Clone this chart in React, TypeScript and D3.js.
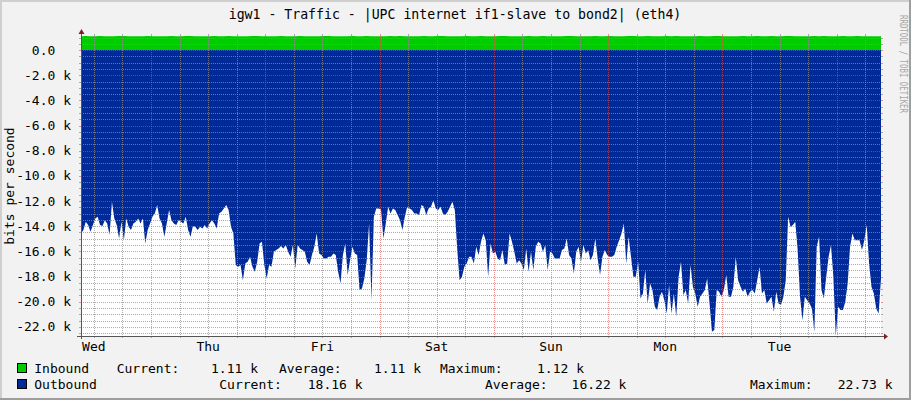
import React from 'react';
import * as d3 from 'd3';

// ---- Text ----
const TITLE = 'igw1 - Traffic - |UPC internet if1-slave to bond2| (eth4)';
const Y_LABEL = 'bits per second';
const WATERMARK = 'RRDTOOL / TOBI OETIKER';

// ---- Time axis: samples starting Wed 09:18 ----
const START = new Date(2024, 0, 3, 9, 18);
const OUT_STEP_MIN = 30;
const IN_STEP_MIN = 60;
const SPAN_HOURS = 168;

// Outbound traffic (k bits/s, plotted negative), one value per 30 minutes
const outbound = [
  14.58, 14.31, 13.65, 13.91, 14.44, 13.91, 13.38, 13.25, 13.91, 13.99, 13.52, 13.78,
  14.71, 12.06, 13.38, 13.91, 14.97, 13.65, 15.11, 13.38, 14.05, 14.31, 13.78, 13.65,
  13.38, 13.78, 13.38, 15.37, 14.31, 13.78, 13.25, 12.99, 12.32, 13.38, 13.78, 14.84,
  13.78, 12.72, 13.52, 13.78, 13.91, 13.52, 13.65, 13.78, 13.25, 14.31, 14.84, 13.99,
  14.05, 14.31, 14.05, 14.18, 13.91, 14.18, 13.78, 13.52, 13.78, 14.18, 12.99, 12.85,
  12.59, 12.32, 12.72, 14.05, 14.58, 17.09, 17.23, 17.09, 18.29, 16.96, 16.83, 16.43,
  17.23, 17.62, 16.83, 15.37, 15.24, 17.09, 18.15, 17.09, 17.23, 16.03, 15.9, 15.77,
  15.58, 15.77, 15.5, 16.03, 16.43, 15.5, 17.36, 15.5, 15.77, 15.9, 16.03, 16.83,
  17.09, 16.3, 15.64, 14.58, 16.17, 16.3, 16.56, 16.56, 16.43, 16.43, 16.17, 16.3,
  17.62, 18.55, 16.3, 15.37, 17.89, 16.7, 15.64, 16.17, 16.3, 19.08, 18.95, 18.15,
  16.7, 13.78, 19.88, 13.25, 12.59, 12.59, 12.67, 14.97, 13.78, 12.46, 12.99, 12.59,
  12.72, 13.12, 13.52, 14.31, 13.25, 12.46, 12.59, 12.72, 12.99, 12.99, 13.12, 12.32,
  12.46, 13.12, 12.59, 12.46, 11.93, 12.59, 12.72, 12.46, 12.99, 13.12, 12.85, 12.46,
  12.06, 12.72, 15.77, 18.29, 18.02, 17.23, 16.96, 16.43, 16.43, 16.96, 15.64, 16.3,
  15.24, 14.58, 15.11, 18.02, 15.37, 16.17, 16.03, 16.56, 16.7, 15.9, 17.09, 16.96,
  14.58, 15.24, 16.03, 16.96, 16.7, 16.96, 17.49, 15.77, 17.62, 16.03, 17.49, 15.64,
  15.24, 15.37, 16.03, 15.5, 17.49, 16.03, 16.17, 16.56, 16.56, 16.56, 15.9, 15.77,
  14.97, 16.3, 16.56, 17.76, 16.03, 15.64, 16.83, 15.5, 16.17, 15.9, 16.7, 16.3,
  14.97, 16.56, 17.89, 16.43, 15.9, 16.3, 16.43, 16.43, 16.3, 15.64, 15.11, 14.58,
  13.78, 16.96, 14.84, 16.43, 18.02, 18.02, 16.83, 19.74, 19.35, 17.49, 20.14, 18.55,
  19.08, 20.41, 20.67, 19.61, 19.21, 19.88, 20.94, 18.68, 20.94, 19.35, 21.2, 18.02,
  16.83, 19.48, 19.08, 20.14, 17.09, 18.82, 19.35, 20.41, 19.61, 19.35, 19.08, 18.15,
  20.14, 22.39, 22.26, 19.08, 19.21, 19.61, 19.08, 17.89, 19.61, 19.61, 18.82, 16.43,
  18.29, 18.82, 19.21, 18.95, 19.61, 19.21, 19.08, 19.35, 18.29, 17.23, 19.35, 19.08,
  20.14, 19.88, 19.61, 20.8, 19.21, 20.14, 20.27, 19.61, 18.29, 13.25, 14.05, 13.91,
  13.65, 15.9, 19.61, 21.47, 19.61, 19.88, 20.14, 20.54, 22.39, 15.64, 14.84, 19.08,
  19.74, 18.02, 16.43, 15.5, 18.02, 22.73, 20.41, 20.67, 20.67, 20.01, 18.55, 15.64,
  14.58, 15.11, 15.11, 15.11, 15.9, 15.11, 13.91, 16.96, 18.82, 19.35, 20.54, 20.94,
  18.16,
];

// Inbound traffic (k bits/s), one value per hour
const inbound = [
  1.11, 1.12, 1.11, 1.11, 1.12, 1.11, 1.1, 1.11, 1.12, 1.12, 1.11, 1.11,
  1.1, 1.11, 1.12, 1.11, 1.11, 1.1, 1.11, 1.12, 1.11, 1.11, 1.12, 1.12,
  1.11, 1.1, 1.11, 1.11, 1.12, 1.11, 1.11, 1.12, 1.11, 1.1, 1.11, 1.11,
  1.12, 1.12, 1.11, 1.11, 1.1, 1.11, 1.12, 1.11, 1.11, 1.11, 1.12, 1.11,
  1.1, 1.11, 1.11, 1.12, 1.12, 1.11, 1.11, 1.1, 1.11, 1.12, 1.11, 1.11,
  1.12, 1.11, 1.1, 1.11, 1.11, 1.12, 1.11, 1.12, 1.11, 1.1, 1.11, 1.11,
  1.12, 1.11, 1.11, 1.12, 1.12, 1.11, 1.1, 1.11, 1.11, 1.12, 1.11, 1.11,
  1.12, 1.11, 1.1, 1.11, 1.12, 1.12, 1.11, 1.11, 1.1, 1.11, 1.12, 1.11,
  1.11, 1.12, 1.11, 1.1, 1.11, 1.11, 1.12, 1.12, 1.11, 1.11, 1.1, 1.11,
  1.12, 1.11, 1.11, 1.12, 1.11, 1.1, 1.11, 1.12, 1.12, 1.11, 1.11, 1.12,
  1.1, 1.11, 1.11, 1.12, 1.11, 1.12, 1.11, 1.1, 1.11, 1.11, 1.12, 1.11,
  1.11, 1.12, 1.12, 1.11, 1.1, 1.11, 1.11, 1.12, 1.11, 1.11, 1.12, 1.1,
  1.11, 1.12, 1.11, 1.11, 1.12, 1.12, 1.11, 1.1, 1.11, 1.11, 1.12, 1.11,
  1.12, 1.11, 1.1, 1.11, 1.12, 1.11, 1.11, 1.12, 1.11, 1.11, 1.1, 1.11,
  1.11,
];

// ---- Y axis ----
const Y_MIN = -22.73;
const Y_MAX = 1.12;
const yMajorTicks = [0, -2, -4, -6, -8, -10, -12, -14, -16, -18, -20, -22];
const yMinorStep = 0.5;

// ---- Legend ----
const seriesNames = ['Inbound', 'Outbound'];
const seriesColors = ['#00CC00', '#002A97'];
const currentValues = ['1.11 k', '18.16 k'];
const averageValues = ['1.11 k', '16.22 k'];
const maximumValues = ['1.12 k', '22.73 k'];

// ---- Layout ----
const W = 911;
const H = 400;
const PL = 81;
const PR = 881;
const PT = 36;
const PB = 336;
const FONT = "'DejaVu Sans Mono', monospace";

const GRID = 'rgba(143,143,143,0.75)';
const MGRID = 'rgba(222,79,79,0.6)';

export default function App() {
  const end = new Date(START.getTime() + SPAN_HOURS * 3600 * 1000);
  const x = d3.scaleTime().domain([START, end]).range([PL, PR]);
  const y = d3.scaleLinear().domain([Y_MIN, Y_MAX]).range([PB, PT]);

  const tOut = (i: number) => d3.timeMinute.offset(START, i * OUT_STEP_MIN);
  const tIn = (i: number) => d3.timeMinute.offset(START, i * IN_STEP_MIN);

  const outArea = d3
    .area<number>()
    .x((_, i) => x(tOut(i)))
    .y0(() => y(0))
    .y1((d) => y(-d));
  const inArea = d3
    .area<number>()
    .x((_, i) => x(tIn(i)))
    .y0(() => y(0))
    .y1((d) => y(d));

  const snap = (v: number) => Math.round(v) + 0.5;

  const minorH = d3
    .range(-22.5, Y_MAX, yMinorStep)
    .filter((v) => Math.abs(v % 2) > 1e-6);
  const minorV = d3.timeHour
    .every(6)!
    .range(START, end)
    .filter((d) => d.getHours() !== 0);
  const majorV = d3.timeDay.range(START, end);
  const labelTimes = d3.timeDay
    .range(d3.timeDay.floor(START), end)
    .map((d) => d3.timeHour.offset(d, 12))
    .filter((d) => d >= START && d <= end);
  const fmtDay = d3.timeFormat('%a');

  const charW = 7.83;

  return (
    <svg
      width={W}
      height={H}
      style={{ position: 'absolute', left: 0, top: 0, display: 'block' }}
      fontFamily={FONT}
    >
      <rect x={0} y={0} width={W} height={H} fill="#F2F2F2" />
      {/* frame shading */}
      <rect x={0} y={0} width={W} height={2} fill="#CFCFCF" />
      <rect x={0} y={0} width={2} height={H} fill="#CFCFCF" />
      <rect x={0} y={H - 2} width={W} height={2} fill="#9E9E9E" />
      <rect x={W - 2} y={0} width={2} height={H} fill="#9E9E9E" />

      {/* title */}
      <text x={455} y={18.5} textAnchor="middle" fontSize={13.2} fill="#000">
        {TITLE}
      </text>

      {/* watermark */}
      <text
        x={899.5}
        y={15}
        transform="rotate(90 899.5 15)"
        fontSize={10.5}
        fill="#A8A8A8"
        textLength={98}
        lengthAdjust="spacingAndGlyphs"
      >
        {WATERMARK}
      </text>

      {/* canvas */}
      <rect x={PL} y={PT} width={PR - PL} height={PB - PT} fill="#FFFFFF" />

      {/* data */}
      <path d={inArea(inbound) || ''} fill={seriesColors[0]} />
      <path d={outArea(outbound) || ''} fill={seriesColors[1]} />

      {/* minor grid */}
      {minorH.map((v) => (
        <g key={'mh' + v}>
          <line x1={PL} x2={PR} y1={snap(y(v))} y2={snap(y(v))} stroke={GRID} strokeDasharray="1,1" />
          <line x1={PL - 2} x2={PL} y1={snap(y(v))} y2={snap(y(v))} stroke={GRID} />
          <line x1={PR} x2={PR + 2} y1={snap(y(v))} y2={snap(y(v))} stroke={GRID} />
        </g>
      ))}
      {minorV.map((d) => (
        <g key={'mv' + d.getTime()}>
          <line x1={snap(x(d))} x2={snap(x(d))} y1={PT} y2={PB} stroke={GRID} strokeDasharray="1,1" />
          <line x1={snap(x(d))} x2={snap(x(d))} y1={PB} y2={PB + 2} stroke={GRID} />
          <line x1={snap(x(d))} x2={snap(x(d))} y1={PT - 2} y2={PT} stroke={GRID} />
        </g>
      ))}
      {/* major grid */}
      {yMajorTicks.map((v) => (
        <g key={'Mh' + v}>
          <line x1={PL} x2={PR} y1={snap(y(v))} y2={snap(y(v))} stroke={MGRID} strokeDasharray="1,1" />
          <line x1={PL - 2} x2={PL} y1={snap(y(v))} y2={snap(y(v))} stroke={MGRID} />
          <line x1={PR} x2={PR + 2} y1={snap(y(v))} y2={snap(y(v))} stroke={MGRID} />
        </g>
      ))}
      {majorV.map((d) => (
        <g key={'Mv' + d.getTime()}>
          <line x1={snap(x(d))} x2={snap(x(d))} y1={PT} y2={PB} stroke={MGRID} strokeDasharray="1,1" />
          <line x1={snap(x(d))} x2={snap(x(d))} y1={PB} y2={PB + 2} stroke={MGRID} />
          <line x1={snap(x(d))} x2={snap(x(d))} y1={PT - 2} y2={PT} stroke={MGRID} />
        </g>
      ))}

      {/* axes */}
      <line x1={PL - 4} x2={PR + 3} y1={PB + 0.5} y2={PB + 0.5} stroke="#555" />
      <line x1={PL + 0.5} x2={PL + 0.5} y1={PB + 3} y2={PT - 3} stroke="#555" />
      <path d={`M${PL - 2.5},${PT - 2} L${PL + 3.5},${PT - 2} L${PL + 0.5},${PT - 7} Z`} fill="#801F1F" />
      <path d={`M${PR + 3},${PB - 2.5} L${PR + 3},${PB + 3.5} L${PR + 7},${PB + 0.5} Z`} fill="#801F1F" />

      {/* y tick labels */}
      {yMajorTicks.map((v) => (
        <text
          key={'yl' + v}
          x={v === 0 ? 71 - 2 * charW : 71}
          y={y(v) + 4.5}
          textAnchor="end"
          fontSize={13}
          fill="#000"
        >
          {v === 0 ? '0.0' : `${v.toFixed(1)} k`}
        </text>
      ))}

      {/* x labels */}
      {labelTimes.map((d) => (
        <text key={'xl' + d.getTime()} x={x(d)} y={351} textAnchor="middle" fontSize={13} fill="#000">
          {fmtDay(d)}
        </text>
      ))}

      {/* y axis title */}
      <text x={14} y={186} transform="rotate(-90 14 186)" textAnchor="middle" fontSize={13} fill="#000">
        {Y_LABEL}
      </text>

      {/* legend */}
      {seriesNames.map((name, i) => {
        const by = 363.5 + i * 16;
        const ty = 373 + i * 16;
        const pos =
          i === 0
            ? { cur: 116.7, curV: 211, avg: 279, avgV: 374, max: 440, maxV: 537 }
            : { cur: 219.3, curV: 307.8, avg: 485, avgV: 571.6, max: 750, maxV: 837.8 };
        return (
          <g key={'lg' + name} fontSize={13} fill="#000">
            <rect x={17.5} y={by} width={9} height={9} fill={seriesColors[i]} stroke="#000" strokeWidth={1} />
            <text x={34.3} y={ty}>{name}</text>
            <text x={pos.cur} y={ty}>Current:</text>
            <text x={pos.curV} y={ty}>{currentValues[i]}</text>
            <text x={pos.avg} y={ty}>Average:</text>
            <text x={pos.avgV} y={ty}>{averageValues[i]}</text>
            <text x={pos.max} y={ty}>Maximum:</text>
            <text x={pos.maxV} y={ty}>{maximumValues[i]}</text>
          </g>
        );
      })}
    </svg>
  );
}
